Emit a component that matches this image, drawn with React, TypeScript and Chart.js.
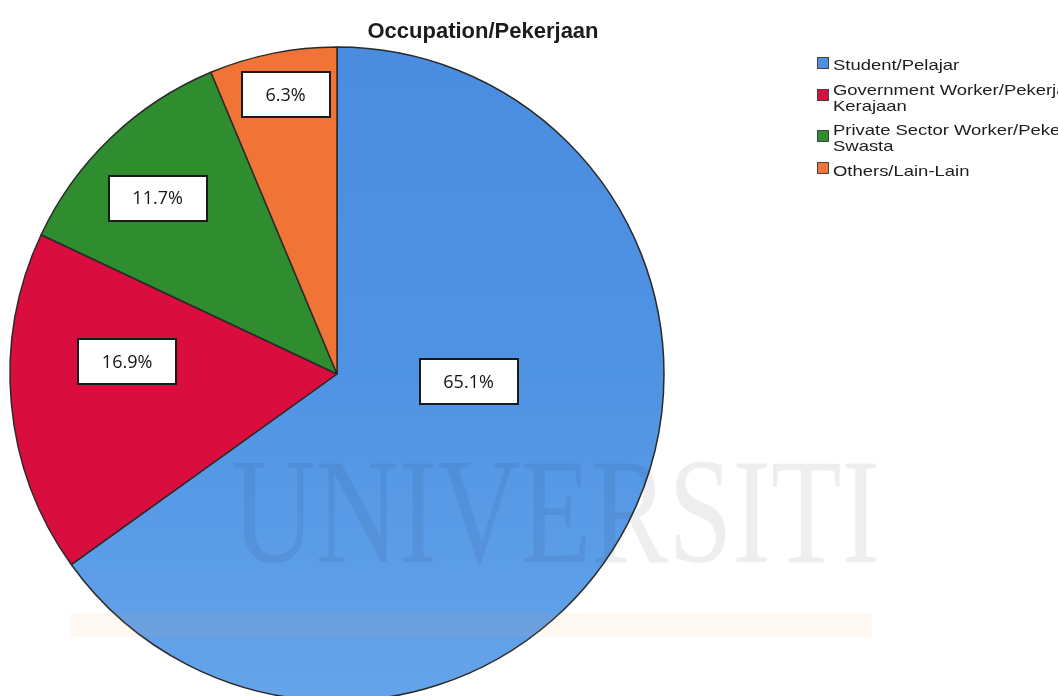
import React, { useEffect, useRef } from "react";
import { Chart, registerables } from "chart.js";

Chart.register(...registerables);

const chartTitle = "Occupation/Pekerjaan";
const categories: string[][] = [
  ["Student/Pelajar"],
  ["Government Worker/Pekerja", "Kerajaan"],
  ["Private Sector Worker/Pekerja", "Swasta"],
  ["Others/Lain-Lain"],
];
const percentages = [65.1, 16.9, 11.7, 6.3];
const percentLabels = ["65.1%", "16.9%", "11.7%", "6.3%"];
const sliceColors = ["#4a8fe0", "#da0d3f", "#2f8c2f", "#f07436"];
const watermarkText = "UNIVERSITI";

// label anchor inside each slice: [fraction of slice angle, fraction of radius]
const labelAnchors: number[][] = [
  [0.398, 0.403],
  [0.64, 0.643],
  [0.456, 0.768],
  [0.54, 0.868],
];

const overlayPlugin = {
  id: "overlay",
  afterDatasetsDraw(chart: any) {
    const ctx: CanvasRenderingContext2D = chart.ctx;
    const meta = chart.getDatasetMeta(0);

    // faint watermark
    ctx.save();
    ctx.fillStyle = "rgba(250,150,80,0.07)";
    ctx.fillRect(70, 613, 802, 24);
    ctx.font = "150px 'Liberation Serif'";
    ctx.textBaseline = "alphabetic";
    ctx.textAlign = "left";
    const ww = ctx.measureText(watermarkText).width;
    ctx.translate(232, 562);
    ctx.scale(648 / ww, 1);
    ctx.fillStyle = "rgba(20,20,50,0.07)";
    ctx.fillText(watermarkText, 0, 0);
    ctx.restore();

    // percentage boxes
    ctx.save();
    ctx.font = "18px 'Open Sans'";
    ctx.textAlign = "center";
    ctx.textBaseline = "middle";
    meta.data.forEach((arc: any, i: number) => {
      const p = arc.getProps(["x", "y", "startAngle", "endAngle", "outerRadius"], true);
      const [t, rf] = labelAnchors[i];
      const a = p.startAngle + t * (p.endAngle - p.startAngle);
      const cx = p.x + Math.cos(a) * rf * p.outerRadius;
      const cy = p.y + Math.sin(a) * rf * p.outerRadius;
      const txt = percentLabels[i];
      const tw = ctx.measureText(txt).width;
      const bw = Math.round(tw + 48);
      const bh = 45;
      const bx = Math.round(cx - bw / 2);
      const by = Math.round(cy - bh / 2);
      ctx.fillStyle = "#ffffff";
      ctx.fillRect(bx, by, bw, bh);
      ctx.lineWidth = 2;
      ctx.strokeStyle = "#1a1a1a";
      ctx.strokeRect(bx, by, bw, bh);
      ctx.fillStyle = "#151515";
      ctx.fillText(txt, cx, cy + 1);
    });
    ctx.restore();
  },
  afterDraw(chart: any) {
    const ctx: CanvasRenderingContext2D = chart.ctx;
    // title
    ctx.save();
    ctx.font = "bold 22px 'Liberation Sans'";
    ctx.textAlign = "center";
    ctx.textBaseline = "alphabetic";
    ctx.fillStyle = "#1c1c1c";
    ctx.fillText(chartTitle, 483, 38);
    ctx.restore();

    // legend
    ctx.save();
    ctx.font = "15px 'Liberation Sans'";
    ctx.textAlign = "left";
    ctx.textBaseline = "alphabetic";
    const lineH = 16;
    let baseline = 70;
    categories.forEach((lines, i) => {
      const top = baseline - 11;
      const bottom = baseline + lineH * (lines.length - 1);
      const sc = (top + bottom) / 2 - 2;
      const sy = Math.round(sc - 6);
      ctx.fillStyle = sliceColors[i];
      ctx.fillRect(817, sy, 12, 12);
      ctx.lineWidth = 1;
      ctx.strokeStyle = "#444";
      ctx.strokeRect(817.5, sy + 0.5, 11, 11);
      ctx.fillStyle = "#1c1c1c";
      lines.forEach((ln, j) => {
        ctx.save();
        ctx.translate(833, baseline + lineH * j);
        ctx.scale(1.23, 1);
        ctx.fillText(ln, 0, 0);
        ctx.restore();
      });
      baseline += lineH * (lines.length - 1) + 24.5;
    });
    ctx.restore();
  },
};

export default function App() {
  const canvasRef = useRef<HTMLCanvasElement | null>(null);

  useEffect(() => {
    const canvas = canvasRef.current;
    if (!canvas) return;
    const chart = new Chart(canvas, {
      type: "pie",
      data: {
        labels: categories.map((l) => l.join(" ")),
        datasets: [
          {
            data: percentages,
            backgroundColor: (c: any) => {
              const area = c.chart.chartArea;
              if (c.dataIndex !== 0 || !area) return sliceColors[c.dataIndex];
              const g = c.chart.ctx.createLinearGradient(0, area.top, 0, area.bottom);
              g.addColorStop(0, "#4a8de0");
              g.addColorStop(0.5, "#4f93e3");
              g.addColorStop(1, "#65a4ea");
              return g;
            },
            borderColor: "#2a2a2a",
            borderWidth: 1.5,
            radius: 327,
            hoverOffset: 0,
          } as any,
        ],
      },
      options: {
        responsive: false,
        animation: false,
        devicePixelRatio: 1,
        events: [],
        layout: { padding: { left: 10, top: 47, right: 394, bottom: 19 } },
        plugins: {
          legend: { display: false },
          tooltip: { enabled: false },
          title: { display: false },
        },
      } as any,
      plugins: [overlayPlugin],
    });
    return () => chart.destroy();
  }, []);

  return (
    <div
      style={{
        position: "absolute",
        left: 0,
        top: 0,
        width: 1058,
        height: 696,
        overflow: "hidden",
        background: "#ffffff",
      }}
    >
      <canvas ref={canvasRef} width={1058} height={720} style={{ display: "block" }} />
    </div>
  );
}
